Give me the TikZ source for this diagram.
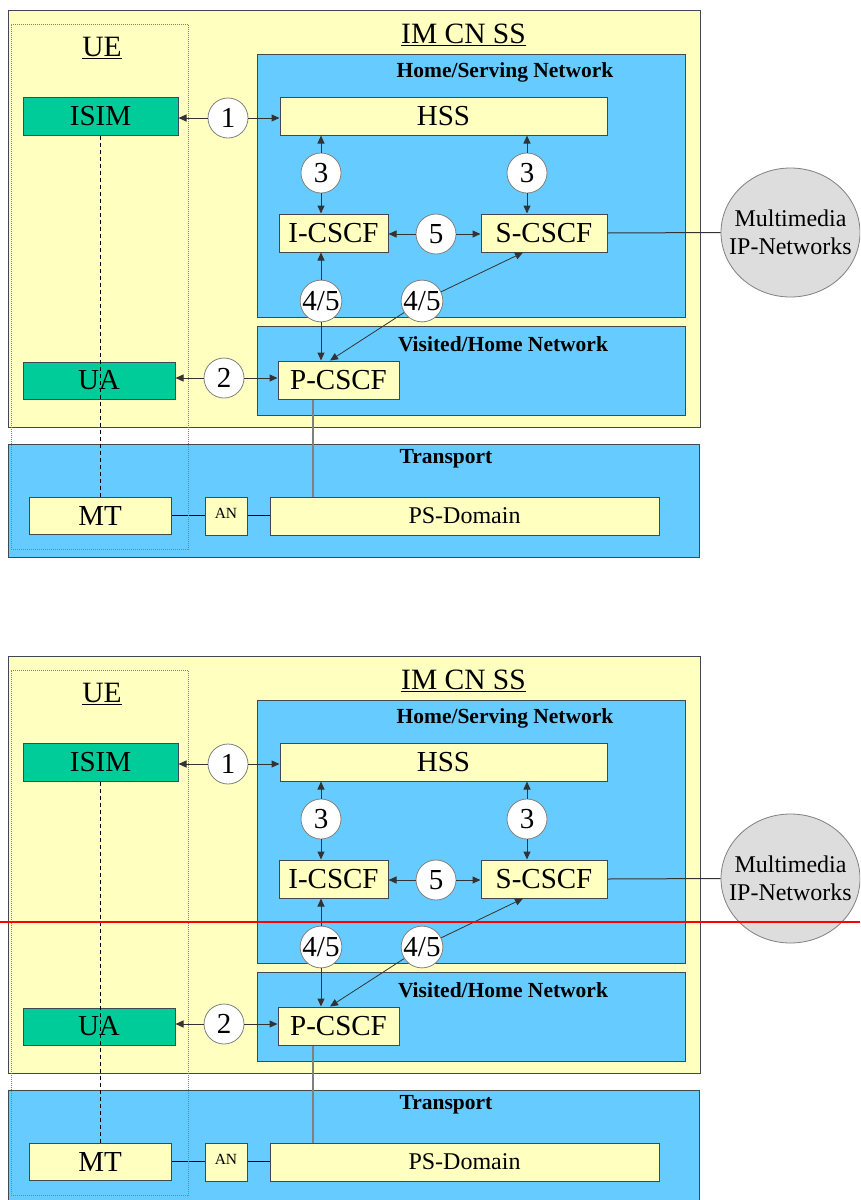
\documentclass[tikz,border=0pt]{standalone}
\usepackage{fontspec}
\setmainfont{Liberation Serif}
\usetikzlibrary{arrows.meta,shapes.geometric}
\definecolor{yel}{HTML}{FFFFC0}
\definecolor{blu}{HTML}{66CCFF}
\definecolor{grn}{HTML}{00CC99}
\definecolor{bordc}{HTML}{404850}
\definecolor{ell}{HTML}{DDDDDD}
\tikzset{
  box/.style={rectangle,draw=bordc,line width=1pt,inner sep=0pt,font=\fontsize{29}{29}\selectfont},
  ybox/.style={box,fill=yel},
  gbox/.style={box,fill=grn},
  netbox/.style={rectangle,draw=bordc,line width=1pt,fill=blu,inner sep=0pt},
  num/.style={circle,fill=white,draw=gray,line width=0.8pt,minimum size=40pt,inner sep=0pt,font=\fontsize{29}{29}\selectfont},
  ttl/.style={font=\bfseries\fontsize{21.5}{21.5}\selectfont,inner sep=0pt},
  big/.style={font=\fontsize{29.5}{29.5}\selectfont,inner sep=0pt},
  arr/.style={-{Triangle[length=8pt,width=7pt]},line width=1pt,draw=black!80},
  plain/.style={line width=1pt,draw=black!80},
}
\newcommand{\imsdiagram}[2]{%
\begin{scope}[yshift=-#2pt]
  % outer containers
  \node[rectangle,draw=bordc,line width=1pt,fill=yel,minimum width=692pt,minimum height=417pt] (#1imcn) at (354,218.5) {};
  \node[netbox,minimum width=428pt,minimum height=263pt] (#1home) at (471,185.5) {};
  \node[netbox,minimum width=428pt,minimum height=89pt] (#1visit) at (471,370.5) {};
  \node[netbox,minimum width=691pt,minimum height=113pt] (#1trans) at (353.5,500.5) {};
  % titles
  \node[big] (#1uelbl) at (102,48) {\underline{UE}};
  \node[big] (#1imlbl) at (463.5,35) {\underline{IM CN SS}};
  \node[ttl] (#1homelbl) at (505,72) {Home/Serving Network};
  \node[ttl] (#1visitlbl) at (503,344) {Visited/Home Network};
  \node[ttl] (#1translbl) at (446,459) {Transport};
  % boxes
  \node[gbox,minimum width=155pt,minimum height=38pt] (#1isim) at (100.5,116) {ISIM};
  \node[ybox,minimum width=327pt,minimum height=38pt] (#1hss) at (443.5,116) {HSS};
  \node[ybox,minimum width=109pt,minimum height=38pt] (#1icscf) at (333.5,233) {I-CSCF};
  \node[ybox,minimum width=126pt,minimum height=38pt] (#1scscf) at (544,233) {S-CSCF};
  \node[ybox,minimum width=121pt,minimum height=38pt] (#1pcscf) at (338.5,380) {P-CSCF};
  \node[gbox,minimum width=152pt,minimum height=37pt] (#1ua) at (99,380.5) {UA};
  \node[ybox,minimum width=142pt,minimum height=37pt] (#1mt) at (100,515.5) {MT};
  \node[ybox,minimum width=42pt,minimum height=38pt,font=\fontsize{15.5}{15.5}\selectfont] (#1an) at (226,516) {\raisebox{5pt}{AN}};
  \node[ybox,minimum width=389pt,minimum height=38pt,font=\fontsize{24}{24}\selectfont] (#1ps) at (464.5,516) {PS-Domain};
  \node[ellipse,draw=gray,line width=0.8pt,fill=ell,minimum width=139pt,minimum height=129pt,inner xsep=-14pt,inner ysep=0pt,align=center,font=\fontsize{24}{28}\selectfont] (#1mm) at (790.5,232.5) {Multimedia\\IP-Networks};
  % reference point circles
  \node[num] (#1c1) at (228,118) {1};
  \node[num] (#1c2) at (224,378) {2};
  \node[num] (#1c3a) at (321,173) {3};
  \node[num] (#1c3b) at (527,173) {3};
  \node[num] (#1c5) at (436,234) {5};
  \node[num] (#1c45a) at (321,301) {4/5};
  \node[num] (#1c45b) at (422,301) {4/5};
  % connectors
  \draw[arr] (#1c1.west) -- (#1c1.west -| #1isim.east);
  \draw[arr] (#1c1.east) -- (#1c1.east -| #1hss.west);
  \draw[arr] (#1c2.west) -- (#1c2.west -| #1ua.east);
  \draw[arr] (#1c2.east) -- (#1c2.east -| #1pcscf.west);
  \draw[arr] (#1c3a.north) -- (#1c3a.north |- #1hss.south);
  \draw[arr] (#1c3a.south) -- (#1c3a.south |- #1icscf.north);
  \draw[arr] (#1c3b.north) -- (#1c3b.north |- #1hss.south);
  \draw[arr] (#1c3b.south) -- (#1c3b.south |- #1scscf.north);
  \draw[arr] (#1c5.west) -- (#1c5.west -| #1icscf.east);
  \draw[arr] (#1c5.east) -- (#1c5.east -| #1scscf.west);
  \draw[arr] (#1c45a.north) -- (#1c45a.north |- #1icscf.south);
  \draw[arr] (#1c45a.south) -- (#1c45a.south |- #1pcscf.north);
  \draw[arr,line width=0.8pt] (#1c45b) -- ([xshift=-21pt]#1scscf.south);
  \draw[arr,line width=0.8pt] (#1c45b) -- ([xshift=-8.5pt]#1pcscf.north);
  \draw[plain] (#1scscf.east) -- (#1mm.west);
  \draw[line width=1.2pt,draw=gray] ([xshift=-25.5pt]#1pcscf.south) -- ([xshift=-25.5pt]#1pcscf.south |- #1ps.north);
  \draw[line width=1.8pt] (#1mt.east) -- (#1an.west |- #1mt.east);
  \draw[line width=1.8pt] (#1an.east |- #1mt.east) -- (#1ps.west |- #1mt.east);
  \draw[line width=0.8pt,dash pattern=on 4pt off 3pt] (#1isim.south) -- (#1isim.south |- #1mt.north);
  % UE dotted frame
  \node[rectangle,draw=gray,line width=0.8pt,dash pattern=on 1pt off 1pt,minimum width=177pt,minimum height=525pt,inner sep=0pt] (#1ue) at (99.5,286.5) {};
\end{scope}}
\begin{document}
\begin{tikzpicture}[x=1pt,y=-1pt]
  \useasboundingbox (0,0) rectangle (860,1200);
  \clip (0,0) rectangle (860,1200);
  \fill[white] (0,0) rectangle (860,1200);
  \imsdiagram{A}{0}
  \imsdiagram{B}{646}
  \coordinate (redl) at (0,922);
  \coordinate (redr) at (860,922);
  \draw[red,line width=1.2pt] (redl) -- (redr);
\end{tikzpicture}
\end{document}
